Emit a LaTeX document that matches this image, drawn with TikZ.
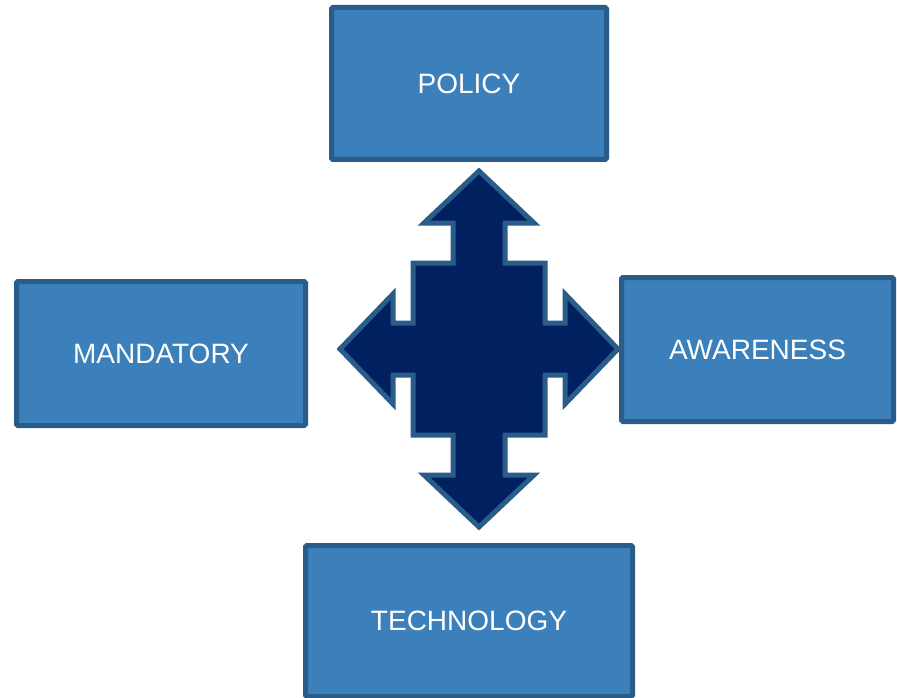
\documentclass[tikz,border=0pt]{standalone}
\usepackage{fontspec}
\setmainfont{Liberation Sans}
\definecolor{cajaazul}{RGB}{59,128,186}
\definecolor{bordeazul}{RGB}{42,92,138}
\definecolor{marino}{RGB}{0,32,96}
\begin{document}
\begin{tikzpicture}[x=1pt, y=-1pt,
    caja/.style={draw=bordeazul, fill=cajaazul, line width=5pt,
        rounded corners=1.5pt, text=white, inner sep=0pt,
        font=\fontsize{28}{34}\selectfont},
    flecha/.style={draw=bordeazul, fill=marino, line width=5pt}]

    % Marco de la figura
    \useasboundingbox (0,0) rectangle (897,698);

    % Cajas
    \node[caja, minimum width=275pt, minimum height=152pt] (policy) at (469,83.5) {POLICY};
    \node[caja, minimum width=289pt, minimum height=144pt] (mandatory) at (161,353.5) {MANDATORY};
    \node[caja, minimum width=272pt, minimum height=144pt] (awareness) at (757.5,349.5) {AWARENESS};
    \node[caja, minimum width=327pt, minimum height=151pt] (technology) at (469,621) {TECHNOLOGY};

    % Flecha de cuatro puntas
    \coordinate (O) at (479,349);
    \draw[flecha, shift={(O)}]
        (0,-178) -- (55,-126) -- (26,-126) -- (26,-86) -- (66,-86) -- (66,-26)
        -- (86,-26) -- (86,-55) -- (139,0) -- (86,55) -- (86,26) -- (66,26)
        -- (66,86) -- (26,86) -- (26,126) -- (55,126) -- (0,178) -- (-55,126)
        -- (-26,126) -- (-26,86) -- (-66,86) -- (-66,26) -- (-86,26) -- (-86,55)
        -- (-139,0) -- (-86,-55) -- (-86,-26) -- (-66,-26) -- (-66,-86)
        -- (-26,-86) -- (-26,-126) -- (-55,-126) -- cycle;
\end{tikzpicture}
\end{document}
